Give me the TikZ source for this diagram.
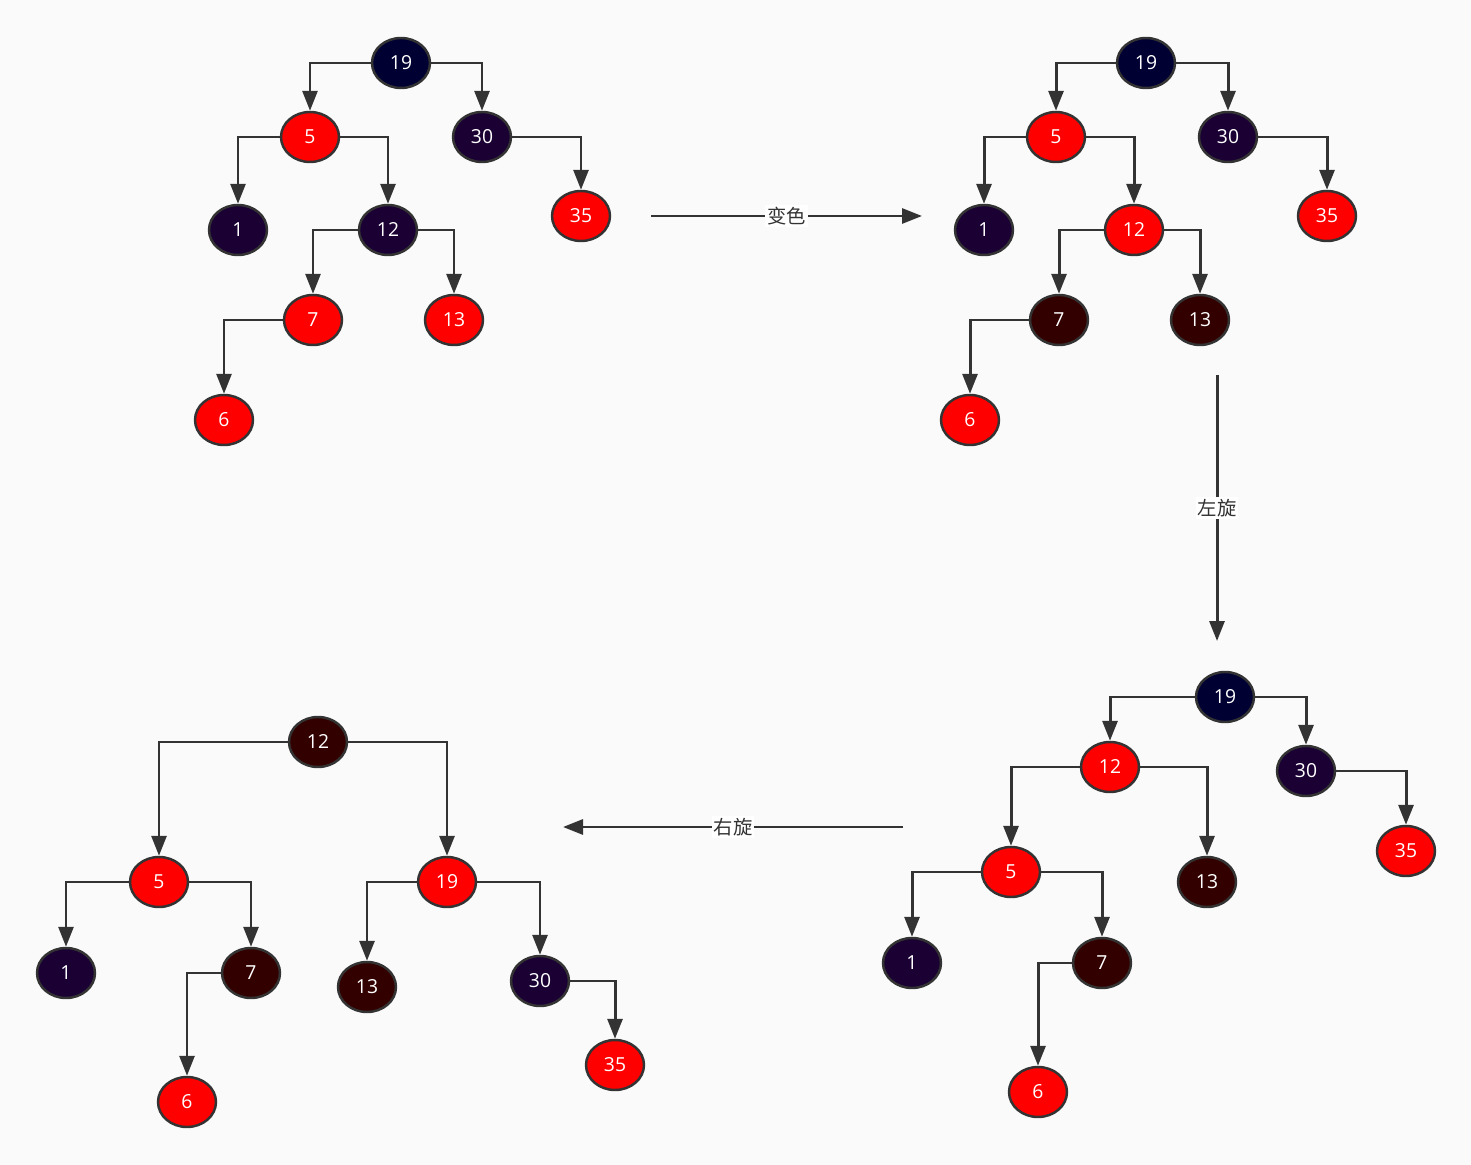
\documentclass[tikz,border=0pt]{standalone}
\usepackage{fontspec}
\setmainfont{Open Sans}
\newfontfamily\cjk{Noto Sans CJK SC}
\usetikzlibrary{positioning,arrows.meta,shapes.geometric}
\definecolor{bgc}{HTML}{FAFAFA}
\definecolor{navyc}{HTML}{000033}
\definecolor{plumc}{HTML}{1A0033}
\definecolor{darkc}{HTML}{330000}
\definecolor{redc}{HTML}{FF0000}
\definecolor{linec}{HTML}{333333}
\tikzset{
	%node styles
	nd/.style = {ellipse, draw=linec, line width=1.4pt,
                 minimum width=1.16cm, minimum height=1cm,
                 inner sep=0pt, text=white,
                 font=\fontsize{11}{13}\selectfont},
	rn/.style = {nd, fill=redc},
	bn/.style = {nd, fill=navyc},
	pn/.style = {nd, fill=plumc},
	dn/.style = {nd, fill=darkc},
	%arrows
	arr/.style = {draw=linec, line width=1.7pt,
                  -{Triangle[length=0.4cm, width=0.3cm]}},
	lbl/.style = {fill=white, inner sep=1pt, text=linec,
                  font=\cjk\fontsize{11}{13}\selectfont}
}

\begin{document}
\begin{tikzpicture}[x=0.02cm, y=-0.02cm]
	\useasboundingbox[fill=bgc] (0,0) rectangle (1471,1165);

	%tree a
	\node[bn] (a19) at (401,63)  {19};
	\node[rn] (a5)  at (310,137) {5};
	\node[pn] (a30) at (482,137) {30};
	\node[pn] (a1)  at (238,230) {1};
	\node[pn] (a12) at (388,230) {12};
	\node[rn] (a35) at (581,216) {35};
	\node[rn] (a7)  at (313,320) {7};
	\node[rn] (a13) at (454,320) {13};
	\node[rn] (a6)  at (224,420) {6};

	%tree b
	\node[bn] (b19) at (1146,63)  {19};
	\node[rn] (b5)  at (1056,137) {5};
	\node[pn] (b30) at (1228,137) {30};
	\node[pn] (b1)  at (984,230)  {1};
	\node[rn] (b12) at (1134,230) {12};
	\node[rn] (b35) at (1327,216) {35};
	\node[dn] (b7)  at (1059,320) {7};
	\node[dn] (b13) at (1200,320) {13};
	\node[rn] (b6)  at (970,420)  {6};

	%tree c
	\node[bn] (c19) at (1225,697)  {19};
	\node[rn] (c12) at (1110,767)  {12};
	\node[pn] (c30) at (1306,771)  {30};
	\node[rn] (c35) at (1406,851)  {35};
	\node[rn] (c5)  at (1011,872)  {5};
	\node[dn] (c13) at (1207,882)  {13};
	\node[pn] (c1)  at (912,963)   {1};
	\node[dn] (c7)  at (1102,963)  {7};
	\node[rn] (c6)  at (1038,1092) {6};

	%tree d
	\node[dn] (d12) at (318,742)  {12};
	\node[rn] (d5)  at (159,882)  {5};
	\node[rn] (d19) at (447,882)  {19};
	\node[pn] (d1)  at (66,973)   {1};
	\node[dn] (d7)  at (251,973)  {7};
	\node[dn] (d13) at (367,987)  {13};
	\node[pn] (d30) at (540,981)  {30};
	\node[rn] (d6)  at (187,1102) {6};
	\node[rn] (d35) at (615,1065) {35};

	%tree arrows
	\foreach \p/\s/\c in {a19/west/a5, a19/east/a30, a5/west/a1, a5/east/a12,
	                      a30/east/a35, a12/west/a7, a12/east/a13, a7/west/a6,
	                      b19/west/b5, b19/east/b30, b5/west/b1, b5/east/b12,
	                      b30/east/b35, b12/west/b7, b12/east/b13, b7/west/b6,
	                      c19/west/c12, c19/east/c30, c30/east/c35, c12/west/c5,
	                      c12/east/c13, c5/west/c1, c5/east/c7, c7/west/c6,
	                      d12/west/d5, d12/east/d19, d5/west/d1, d5/east/d7,
	                      d7/west/d6, d19/west/d13, d19/east/d30, d30/east/d35}
		\draw[arr] (\p.\s) -| (\c);

	%steps
	\coordinate (s1) at (651,216);
	\coordinate (e1) at (922,216);
	\coordinate (s2) at (1217,375);
	\coordinate (e2) at (1217,641);
	\coordinate (s3) at (903,827);
	\coordinate (e3) at (563,827);
	\draw[arr] (s1) -- node[lbl] {变色} (e1);
	\draw[arr] (s2) -- node[lbl] {左旋} (e2);
	\draw[arr] (s3) -- node[lbl] {右旋} (e3);
\end{tikzpicture}
\end{document}
